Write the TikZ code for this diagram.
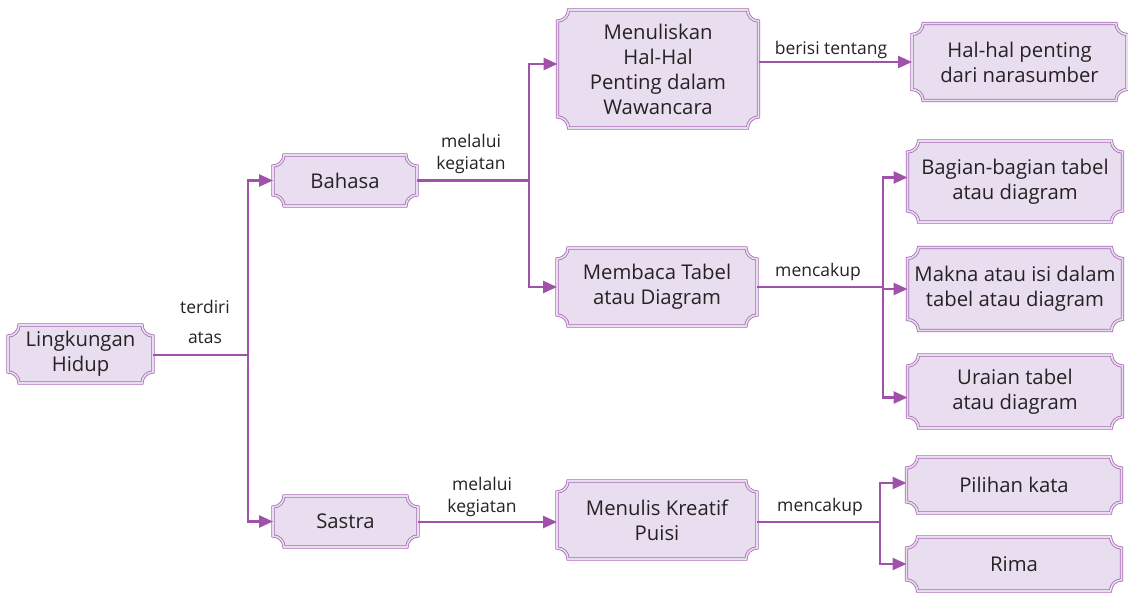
\documentclass[tikz,border=0pt]{standalone}
\usepackage{fontspec}
\setmainfont{Open Sans}
\usetikzlibrary{arrows.meta,calc,backgrounds,positioning}
\definecolor{linkpurple}{HTML}{A052AA}
\definecolor{framepurple}{HTML}{A86AB4}
\definecolor{framefill}{HTML}{E9DEEF}
\definecolor{inkgray}{HTML}{262223}
\tikzset{
	topic/.style={
		rectangle,
		align=center,
		inner sep=2pt,
		outer sep=0pt,
		text=inkgray,
		font=\fontsize{20.3}{25}\selectfont
	},
	frame/.style={
		draw=framepurple,
		line width=0.8pt,
		double=framefill,
		double distance=1.6pt,
		fill=framefill
	},
	link/.style={
		draw=linkpurple,
		line width=2.6pt
	},
	linkto/.style={
		link,
		-{Triangle[length=14pt,width=12pt]}
	},
	tag/.style={
		align=center,
		text=inkgray,
		font=\fontsize{17.5}{22}\selectfont
	}
}

\begin{document}
\begin{tikzpicture}[x=1pt,y=-1pt]
	\useasboundingbox (0,0) rectangle (1128,593);
	\node [topic,minimum width=145,minimum height=58] (root) at (80.5,354) {Lingkungan\\Hidup};
	\node [topic,minimum width=144,minimum height=51] (bahasa) at (345,180.5) {Bahasa};
	\node [topic,minimum width=145,minimum height=51] (sastra) at (345.5,521.5) {Sastra};
	\node [topic,minimum width=201,minimum height=118] (menulis) at (658,69) {Menuliskan\\Hal-Hal\\Penting dalam\\Wawancara};
	\node [topic,minimum width=200,minimum height=78] (membaca) at (657,287) {Membaca Tabel\\atau Diagram};
	\node [topic,minimum width=200,minimum height=78] (kreatif) at (657,520) {Menulis Kreatif\\Puisi};
	\node [topic,minimum width=215,minimum height=77] (halhal) at (1019.5,62) {Hal-hal penting\\dari narasumber};
	\node [topic,minimum width=215,minimum height=81] (bagian) at (1015,181.5) {Bagian-bagian tabel\\atau diagram};
	\node [topic,minimum width=215,minimum height=83] (makna) at (1015,289) {Makna atau isi dalam\\tabel atau diagram};
	\node [topic,minimum width=215,minimum height=73] (uraian) at (1015,391.5) {Uraian tabel\\atau diagram};
	\node [topic,minimum width=215,minimum height=56] (pilihan) at (1014,485) {Pilihan kata};
	\node [topic,minimum width=215,minimum height=54] (rima) at (1014,564) {Rima};

	% frames with hollow corners
	\begin{pgfonlayer}{background}
		\foreach \b in {root,bahasa,sastra,menulis,membaca,kreatif,halhal,bagian,makna,uraian,pilihan,rima}
			\draw[frame] let \p1=(\b.north west), \p2=(\b.south east) in
				(\x1+11pt,\y1) -- (\x2-11pt,\y1) arc[start angle=180,end angle=270,radius=11pt]
				-- (\x2,\y2+11pt) arc[start angle=90,end angle=180,radius=11pt]
				-- (\x1+11pt,\y2) arc[start angle=0,end angle=90,radius=11pt]
				-- (\x1,\y1-11pt) arc[start angle=270,end angle=360,radius=11pt] -- cycle;
	\end{pgfonlayer}

	\coordinate (j1) at (248,355);
	\coordinate (j2) at (529,180.5);
	\coordinate (j3) at (883,287);
	\coordinate (j4) at (880,522);

	\draw[link] (root.east |- j1) -- (j1);
	\draw[linkto] (j1) |- (bahasa.west);
	\draw[linkto] (j1) |- (sastra.west);
	\draw[link] (bahasa.east) -- (j2);
	\draw[linkto] (j2) |- ([yshift=5pt]menulis.west);
	\draw[linkto] (j2) |- (membaca.west);
	\draw[linkto] (halhal.west -| menulis.east) -- (halhal.west);
	\draw[link] (membaca.east) -- (j3);
	\draw[linkto] (j3) |- ([yshift=4pt]bagian.west);
	\draw[linkto] (j3) |- (makna.west);
	\draw[linkto] (j3) |- ([yshift=-6pt]uraian.west);
	\draw[linkto] (sastra.east |- j4) -- (j4 -| kreatif.west);
	\draw[link] (kreatif.east |- j4) -- (j4);
	\draw[linkto] (j4) |- ([yshift=2pt]pilihan.west);
	\draw[linkto] (j4) |- (rima.west);

	\node [tag] (terdiri) at (205,307) {terdiri};
	\node [tag] (atas) at (205,338) {atas};
	\node [tag] (via1) at (471,154) {melalui\\kegiatan};
	\node [tag] (via2) at (482,497) {melalui\\kegiatan};
	\node [tag] (isi) at (831,50) {berisi tentang};
	\node [tag] (cakup1) at (818,272) {mencakup};
	\node [tag] (cakup2) at (820,507) {mencakup};
\end{tikzpicture}
\end{document}
